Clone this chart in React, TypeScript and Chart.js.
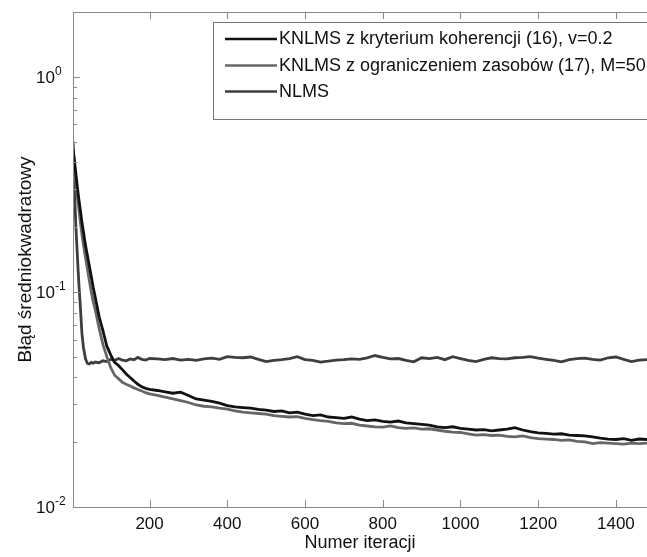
import React, { useEffect, useRef } from "react";
import { Chart, registerables } from "chart.js";

Chart.register(...registerables);

const iterations: number[] = [
  3, 6, 10, 14, 18, 22, 26, 30, 35, 40, 45, 50, 55, 60, 70, 80, 90, 100, 110, 120, 130, 140, 150, 160, 170, 180, 190, 200,
  220, 240, 260, 280, 300, 320, 340, 360, 380, 400, 420, 440, 460, 480, 500, 520, 540, 560, 580, 600,
  620, 640, 660, 680, 700, 720, 740, 760, 780, 800, 820, 840, 860, 880, 900, 920, 940, 960, 980, 1000,
  1020, 1040, 1060, 1080, 1100, 1120, 1140, 1160, 1180, 1200, 1220, 1240, 1260, 1280, 1300, 1320, 1340, 1360, 1380, 1400,
  1420, 1440, 1460, 1480,
];

const knlmsCoherence: number[] = [
  0.46, 0.42, 0.36, 0.31, 0.27, 0.24, 0.21, 0.19, 0.165, 0.148, 0.132, 0.118, 0.105, 0.095, 0.077, 0.066, 0.056, 0.051, 0.047, 0.0455, 0.0435, 0.0415, 0.04, 0.0385, 0.0372, 0.0362, 0.0356, 0.0352,
  0.0348, 0.0343, 0.0338, 0.0342, 0.033, 0.0318, 0.0314, 0.031, 0.0304, 0.0296, 0.0292, 0.029, 0.0288, 0.0284, 0.0282, 0.0278, 0.028, 0.0274, 0.0276, 0.027,
  0.0266, 0.0268, 0.0262, 0.026, 0.0258, 0.0262, 0.0256, 0.0252, 0.0254, 0.025, 0.0248, 0.0251, 0.0246, 0.0244, 0.0242, 0.024, 0.0236, 0.0234, 0.0236, 0.0232,
  0.023, 0.0228, 0.0229, 0.0226, 0.0228, 0.023, 0.0234, 0.0228, 0.0224, 0.0221, 0.022, 0.0218, 0.0219, 0.0216, 0.0215, 0.0214, 0.0212, 0.0209, 0.0207, 0.0206,
  0.0208, 0.0204, 0.0207, 0.0206,
];

const knlmsResource: number[] = [
  0.49, 0.4, 0.33, 0.28, 0.245, 0.21, 0.185, 0.165, 0.145, 0.128, 0.113, 0.1, 0.09, 0.083, 0.068, 0.057, 0.05, 0.0445, 0.041, 0.0395, 0.038, 0.0372, 0.0365, 0.0358, 0.0352, 0.0346, 0.034, 0.0336,
  0.033, 0.0324, 0.0318, 0.0312, 0.0306, 0.0298, 0.0294, 0.0292, 0.0288, 0.0285, 0.028, 0.0276, 0.0274, 0.0272, 0.027, 0.0266, 0.0264, 0.0262, 0.0263, 0.0258,
  0.0255, 0.0252, 0.025, 0.0246, 0.0244, 0.0245, 0.024, 0.0238, 0.0236, 0.0235, 0.0238, 0.0234, 0.0232, 0.0233, 0.023, 0.0231, 0.0228, 0.0225, 0.0223, 0.0222,
  0.0219, 0.0216, 0.0217, 0.0215, 0.0216, 0.0213, 0.0212, 0.0214, 0.021, 0.0208, 0.0207, 0.0206, 0.0204, 0.0205, 0.0202, 0.0201, 0.0197, 0.0199, 0.0198, 0.0197,
  0.0196, 0.0198, 0.0197, 0.0198,
];

const nlms: number[] = [
  0.5, 0.33, 0.21, 0.15, 0.11, 0.085, 0.064, 0.055, 0.049, 0.0465, 0.0462, 0.047, 0.0466, 0.0472, 0.0468, 0.0478, 0.0474, 0.0486, 0.048, 0.049, 0.0482, 0.0478, 0.0488, 0.0484, 0.0496, 0.0486, 0.0482, 0.049,
  0.0488, 0.0484, 0.049, 0.0482, 0.0486, 0.048, 0.0488, 0.0492, 0.0486, 0.05, 0.0496, 0.0494, 0.0498, 0.0486, 0.0474, 0.048, 0.0484, 0.049, 0.05, 0.0484,
  0.048, 0.0472, 0.0476, 0.0482, 0.0484, 0.0488, 0.0486, 0.0494, 0.0506, 0.0496, 0.0488, 0.049, 0.048, 0.0473, 0.0494, 0.049, 0.0496, 0.0484, 0.05, 0.049,
  0.048, 0.0474, 0.0486, 0.0494, 0.049, 0.0488, 0.0494, 0.0496, 0.05, 0.0492, 0.0486, 0.048, 0.0473, 0.0484, 0.049, 0.0492, 0.0486, 0.0482, 0.0494, 0.0498,
  0.0486, 0.0474, 0.0482, 0.0484,
];

const seriesLabels: string[] = [
  "KNLMS z kryterium koherencji (16), v=0.2",
  "KNLMS z ograniczeniem zasobów (17), M=50",
  "NLMS",
];
const seriesColors: string[] = ["#111111", "#666666", "#3e3e3e"];

const xTicks: number[] = [200, 400, 600, 800, 1000, 1200, 1400];
const yMajorTicks: number[] = [0.01, 0.1, 1];
const yMajorExponents: string[] = ["-2", "-1", "0"];

const xTitle = "Numer iteracji";
const yTitle = "Błąd średniokwadratowy";

const FONT = '"Liberation Sans", Arial, sans-serif';

const decorPlugin = {
  id: "decor",
  afterDraw(chart: any) {
    const ctx = chart.ctx as CanvasRenderingContext2D;
    const area = chart.chartArea;
    const xs = chart.scales.x;
    const ys = chart.scales.y;
    ctx.save();
    // axes frame
    ctx.strokeStyle = "#8a8a8a";
    ctx.lineWidth = 1;
    ctx.beginPath();
    ctx.moveTo(Math.round(area.left) + 0.5, Math.round(area.top) + 0.5);
    ctx.lineTo(Math.round(area.left) + 0.5, Math.round(area.bottom) + 0.5);
    ctx.lineTo(area.right, Math.round(area.bottom) + 0.5);
    ctx.moveTo(Math.round(area.left) + 0.5, Math.round(area.top) + 0.5);
    ctx.lineTo(area.right, Math.round(area.top) + 0.5);
    ctx.stroke();

    // x ticks
    ctx.beginPath();
    for (const v of xTicks) {
      const px = Math.round(xs.getPixelForValue(v)) + 0.5;
      ctx.moveTo(px, area.bottom);
      ctx.lineTo(px, area.bottom - 7);
      ctx.moveTo(px, area.top);
      ctx.lineTo(px, area.top + 7);
    }
    // y ticks (major + minor)
    for (const base of yMajorTicks) {
      for (let m = 1; m <= 9; m++) {
        const v = base * m;
        if (v > ys.max + 1e-9 || v < ys.min - 1e-9) continue;
        const py = Math.round(ys.getPixelForValue(v)) + 0.5;
        const len = m === 1 ? 7 : 4;
        ctx.moveTo(area.left, py);
        ctx.lineTo(area.left + len, py);
      }
    }
    ctx.stroke();

    // x tick labels
    ctx.fillStyle = "#111";
    ctx.font = `17px ${FONT}`;
    ctx.textAlign = "center";
    ctx.textBaseline = "alphabetic";
    for (const v of xTicks) {
      const px = xs.getPixelForValue(v);
      ctx.fillText(String(v), px, area.bottom + 22);
    }

    // y tick labels with superscripts
    yMajorTicks.forEach((v, i) => {
      const py = ys.getPixelForValue(v);
      ctx.font = `17px ${FONT}`;
      ctx.textAlign = "right";
      ctx.fillText("10", area.left - 18, py + 6);
      ctx.font = `12px ${FONT}`;
      ctx.textAlign = "left";
      ctx.fillText(yMajorExponents[i], area.left - 18, py - 2);
    });

    // axis titles
    ctx.font = `18px ${FONT}`;
    ctx.textAlign = "center";
    ctx.fillText(xTitle, (area.left + area.right) / 2, area.bottom + 41);
    ctx.save();
    ctx.font = `19px ${FONT}`;
    ctx.translate(31, (area.top + area.bottom) / 2);
    ctx.rotate(-Math.PI / 2);
    ctx.fillText(yTitle, 0, 0);
    ctx.restore();

    // legend
    const lx = 213.5;
    const ly = 22.5;
    ctx.fillStyle = "#ffffff";
    ctx.fillRect(lx, ly, chart.width - lx + 20, 97);
    ctx.strokeStyle = "#777";
    ctx.lineWidth = 1;
    ctx.strokeRect(lx, ly, chart.width - lx + 20, 97);
    const rows = [39, 65.5, 91.5];
    chart.data.datasets.forEach((ds: any, i: number) => {
      const y = rows[i];
      ctx.strokeStyle = ds.borderColor;
      ctx.lineWidth = 2.5;
      ctx.beginPath();
      ctx.moveTo(225, y);
      ctx.lineTo(277, y);
      ctx.stroke();
      ctx.fillStyle = "#111";
      ctx.font = `18px ${FONT}`;
      ctx.textAlign = "left";
      ctx.fillText(ds.label, 279, y + 5);
    });
    ctx.restore();
  },
};

export default function App() {
  const canvasRef = useRef<HTMLCanvasElement | null>(null);

  useEffect(() => {
    const canvas = canvasRef.current;
    if (!canvas) return;
    const seriesValues = [knlmsCoherence, knlmsResource, nlms];
    const chart = new Chart(canvas, {
      type: "line",
      data: {
        datasets: seriesValues.map((vals, i) => ({
          label: seriesLabels[i],
          data: iterations.map((x, j) => ({ x, y: vals[j] })),
          borderColor: seriesColors[i],
          backgroundColor: seriesColors[i],
          borderWidth: 2.8,
          pointRadius: 0,
          tension: 0,
          fill: false,
        })),
      },
      options: {
        responsive: false,
        maintainAspectRatio: false,
        animation: false,
        events: [],
        layout: { padding: { left: 0, right: 0, top: 12, bottom: 0 } },
        plugins: {
          legend: { display: false },
          tooltip: { enabled: false },
          title: { display: false },
        },
        scales: {
          x: {
            type: "linear",
            min: 3,
            max: 1480,
            grid: { display: false },
            border: { display: false },
            ticks: { display: false },
            afterFit: (scale: any) => {
              scale.height = 50;
            },
          },
          y: {
            type: "logarithmic",
            min: 0.01,
            max: 2,
            grid: { display: false },
            border: { display: false },
            ticks: { display: false },
            afterFit: (scale: any) => {
              scale.width = 73;
            },
          },
        },
      },
      plugins: [decorPlugin],
    });
    return () => chart.destroy();
  }, []);

  return (
    <div style={{ position: "fixed", left: 0, top: 0, width: 647, height: 557, background: "#fff" }}>
      <canvas ref={canvasRef} width={647} height={557} style={{ display: "block" }} />
    </div>
  );
}
